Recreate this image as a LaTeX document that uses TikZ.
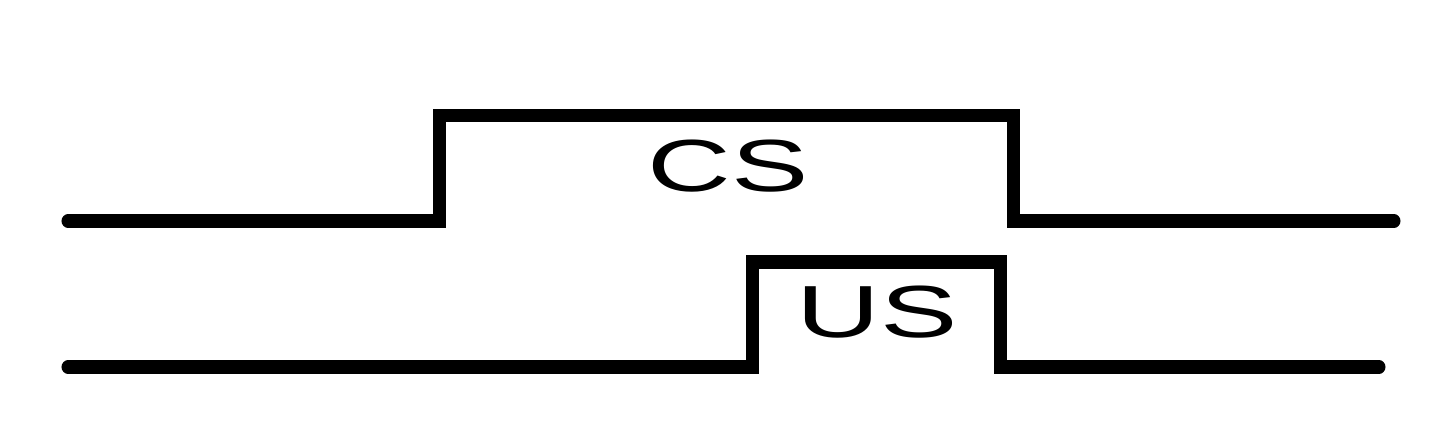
\documentclass[tikz,border=0pt]{standalone}
\usepackage{fontspec}
\setmainfont{Liberation Sans}
\usetikzlibrary{positioning}

\begin{document}
\begin{tikzpicture}[x=0.01cm,y=-0.01cm,
    wave/.style={line width=0.13cm,line cap=round,line join=miter},
    lbl/.style={font=\fontsize{21}{25}\selectfont,xscale=1.57,inner sep=0pt}]
    \useasboundingbox (0,0) rectangle (1440,443);
    \def\cswave{(68,221) -- (439,221) -- (439,116) -- (1013,116) -- (1013,221) -- (1394,221)}
    \def\uswave{(68,367) -- (752,367) -- (752,262) -- (1000,262) -- (1000,367) -- (1379,367)}
        \draw[wave] \cswave;
        \draw[wave] \uswave;
        \node[lbl] (cs) at (728,166) {CS};
        \node[lbl] (us) at (877,312) {US};
\end{tikzpicture}
\end{document}
